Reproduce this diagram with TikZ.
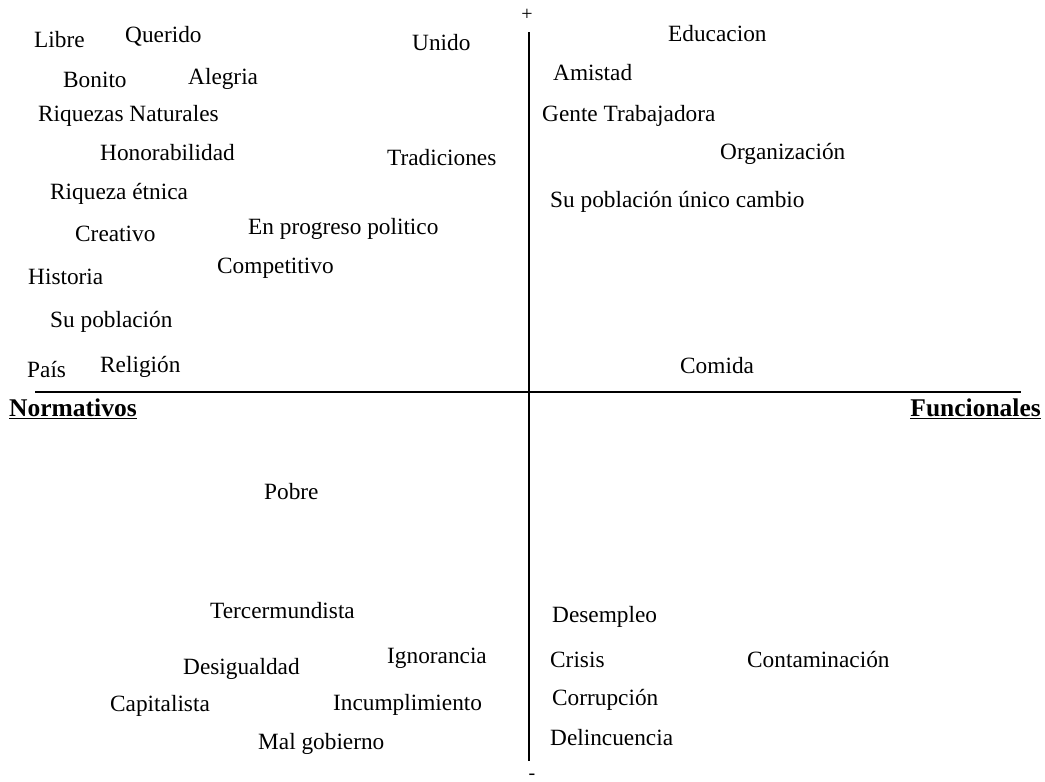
\documentclass[tikz,border=0pt]{standalone}
\usepackage{fontspec}
\setmainfont{Liberation Serif}
\begin{document}
\begin{tikzpicture}[x=1pt,y=-1pt,
  word/.style={anchor=west,inner sep=0pt,font=\fontsize{23.3}{28}\selectfont},
  axislabel/.style={inner sep=0pt,font=\fontsize{25.5}{30}\selectfont\bfseries},
  axisline/.style={line width=2.8pt,black},
  sign/.style={inner sep=0pt,font=\fontsize{20}{22}\selectfont}]
\useasboundingbox (0,0) rectangle (1045,782);
% axes
\coordinate (vtop) at (529,32);
\coordinate (vbot) at (529,761);
\coordinate (hleft) at (35,392);
\coordinate (hright) at (1021,392);
\draw[axisline] (vtop) -- (vbot);
\draw[axisline,line width=2.3pt] (hleft) -- (hright);
\node[sign] (plus) at (527,15) {+};
\node[sign] (minus) at (532,777) {-};
\node[axislabel,anchor=west] (norm) at (9,409) {\underline{Normativos}};
\node[axislabel,anchor=east] (func) at (1041,409) {\underline{Funcionales}};
% upper left
\node[word] (libre) at (34,40) {Libre};
\node[word] (querido) at (125,36) {Querido};
\node[word] (unido) at (412,43) {Unido};
\node[word] (bonito) at (63,80) {Bonito};
\node[word] (alegria) at (188,79) {Alegria};
\node[word] (riquezas) at (38,116) {Riquezas Naturales};
\node[word] (honor) at (100,153) {Honorabilidad};
\node[word] (trad) at (387,158) {Tradiciones};
\node[word] (etnica) at (50,194) {Riqueza étnica};
\node[word] (creativo) at (75,234) {Creativo};
\node[word] (progreso) at (248,229) {En progreso politico};
\node[word] (compet) at (217,268) {Competitivo};
\node[word] (historia) at (28,277) {Historia};
\node[word] (supob) at (50,322) {Su población};
\node[word] (pais) at (27,370) {País};
\node[word] (religion) at (100,367) {Religión};
% upper right
\node[word] (educ) at (668,34) {Educacion};
\node[word] (amistad) at (553,73) {Amistad};
\node[word] (gente) at (542,116) {Gente Trabajadora};
\node[word] (organ) at (720,154) {Organización};
\node[word] (supobu) at (550,202) {Su población único cambio};
\node[word] (comida) at (680,366) {Comida};
% lower left
\node[word] (pobre) at (264,492) {Pobre};
\node[word] (tercer) at (210,611) {Tercermundista};
\node[word] (ignor) at (387,658) {Ignorancia};
\node[word] (desig) at (183,669) {Desigualdad};
\node[word] (capit) at (110,706) {Capitalista};
\node[word] (incum) at (333,705) {Incumplimiento};
\node[word] (malgob) at (258,744) {Mal gobierno};
% lower right
\node[word] (desem) at (552,617) {Desempleo};
\node[word] (crisis) at (550,660) {Crisis};
\node[word] (contam) at (747,660) {Contaminación};
\node[word] (corrup) at (552,700) {Corrupción};
\node[word] (delinc) at (550,738) {Delincuencia};
\end{tikzpicture}
\end{document}
